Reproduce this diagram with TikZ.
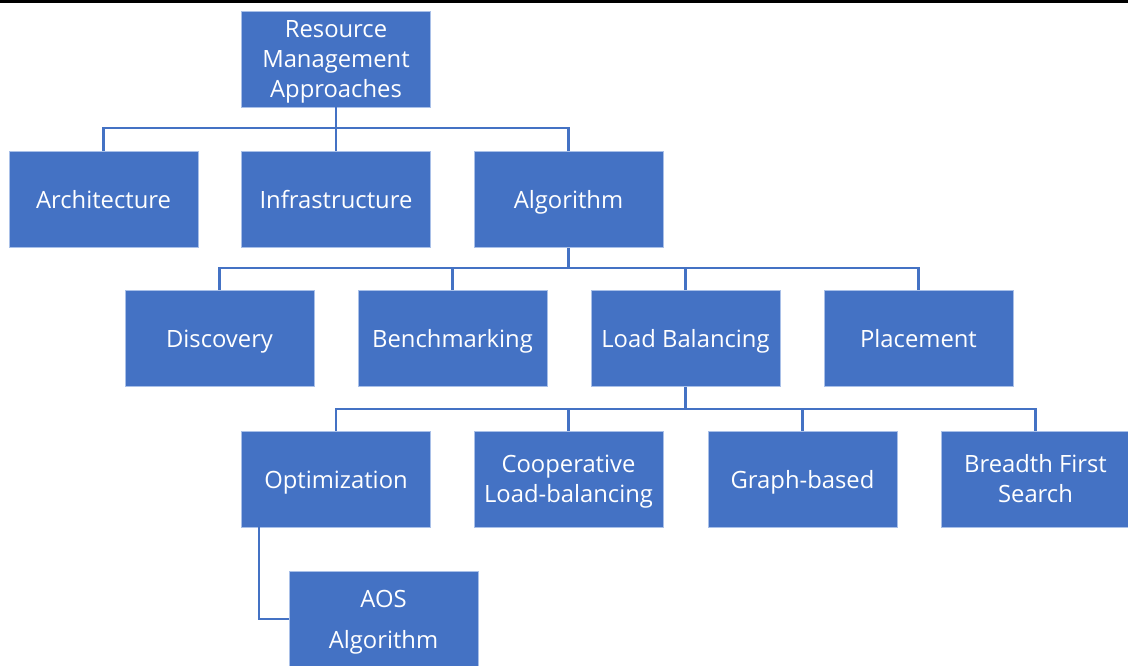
\documentclass[tikz,border=0pt]{standalone}
\usepackage{fontspec}
\setmainfont{Open Sans}
\usetikzlibrary{calc}
\definecolor{boxblue}{HTML}{4472C4}
\definecolor{edgeblue}{HTML}{A9C0E8}
\begin{document}
\begin{tikzpicture}[x=1pt,y=-1pt,
  box/.style={rectangle, fill=boxblue, draw=edgeblue, line width=0.6pt,
    minimum width=189pt, minimum height=96pt, inner sep=0pt, align=center,
    text=white, font=\fontsize{23.8}{30}\selectfont},
  one/.style={box, text height=18pt, text depth=0pt},
  link/.style={draw=boxblue, line width=2.2pt}]
\useasboundingbox (0,0) rectangle (1128,665);
\fill[black] (0,0) rectangle (1128,3);
\begin{scope}
\clip (0,0) rectangle (1128,665);
\node[box] (root) at (336,59) {Resource\\Management\\\smash{Approaches}};
\node[one] (arch) at (103.5,199.5) {Architecture};
\node[one] (infra) at (336,199.5) {Infrastructure};
\node[one] (algo) at (568.5,199.5) {Algorithm};
\node[one] (disc) at (219.5,338.5) {Discovery};
\node[one] (bench) at (452.5,338.5) {Benchmarking};
\node[one] (lb) at (685.5,338.5) {Load Balancing};
\node[one] (place) at (918.5,338.5) {Placement};
\node[one] (opt) at (336,479) {Optimization};
\node[box] (coop) at (568.5,479) {Cooperative\\\smash{Load-balancing}};
\node[one] (graph) at (802.5,479) {Graph-based};
\node[box] (bfs) at (1035.5,479) {Breadth First\\Search};
\node[box, font=\fontsize{23.8}{41}\selectfont] (aos) at (383.5,619) {AOS\\\smash{Algorithm}};
\end{scope}
\foreach \c in {arch,infra,algo}
  \draw[link] (\c.north) -- ++(0,-23) -| (root.south);
\foreach \c in {disc,bench,lb,place}
  \draw[link] (\c.north) -- ++(0,-22) -| (algo.south);
\foreach \c in {opt,coop,graph,bfs}
  \draw[link] (\c.north) -- ++(0,-22) -| (lb.south);
\draw[link] (aos.west) -| ($(opt.south west)+(18,0)$);
\end{tikzpicture}
\end{document}
